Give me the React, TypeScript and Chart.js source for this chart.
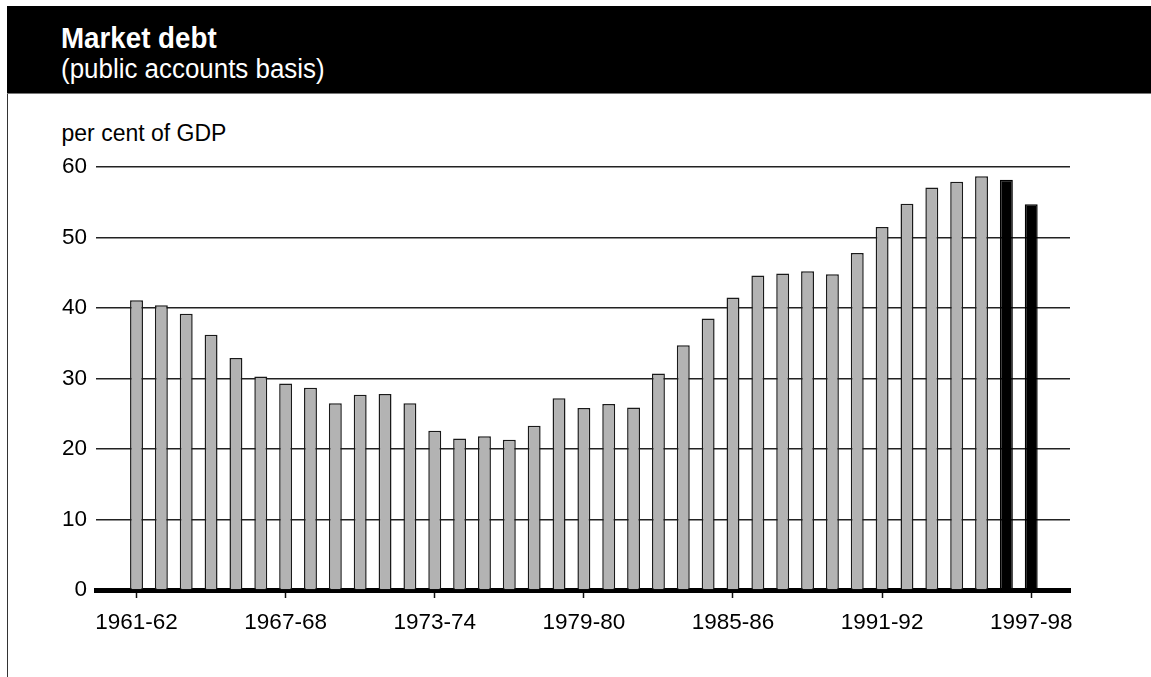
import React, { useEffect, useRef } from "react";
import { Chart, registerables } from "chart.js";

Chart.register(...registerables);

const categories: string[] = [
  "1961-62", "1962-63", "1963-64", "1964-65", "1965-66", "1966-67",
  "1967-68", "1968-69", "1969-70", "1970-71", "1971-72", "1972-73",
  "1973-74", "1974-75", "1975-76", "1976-77", "1977-78", "1978-79",
  "1979-80", "1980-81", "1981-82", "1982-83", "1983-84", "1984-85",
  "1985-86", "1986-87", "1987-88", "1988-89", "1989-90", "1990-91",
  "1991-92", "1992-93", "1993-94", "1994-95", "1995-96", "1996-97",
  "1997-98",
];

const actualValues: number[] = [
  41.1, 40.4, 39.2, 36.2, 32.9, 30.3, 29.3, 28.7, 26.5, 27.7, 27.8, 26.5,
  22.6, 21.5, 21.8, 21.3, 23.3, 27.2, 25.8, 26.4, 25.9, 30.7, 34.7, 38.5,
  41.5, 44.6, 44.9, 45.2, 44.8, 47.8, 51.5, 54.8, 57.1, 57.9, 58.7,
];

const estimateValues: number[] = [58.2, 54.7];

const xTickIndices: number[] = [0, 6, 12, 18, 24, 30, 36];
const yTicks: number[] = [0, 10, 20, 30, 40, 50, 60];

const FONT = "'Liberation Sans', Arial, Helvetica, sans-serif";

export default function App() {
  const canvasRef = useRef<HTMLCanvasElement | null>(null);

  useEffect(() => {
    const canvas = canvasRef.current;
    if (!canvas) return;
    const actualData = actualValues.map((v, i) => ({ x: i, y: v }));
    const estimateData = estimateValues.map((v, i) => ({
      x: actualValues.length + i,
      y: v,
    }));
    const chart = new Chart(canvas, {
      type: "bar",
      data: {
        datasets: [
          {
            label: "Actual",
            data: actualData,
            backgroundColor: "#b3b3b3",
            borderColor: "#1a1a1a",
            borderWidth: 1.5,
            grouped: false,
            categoryPercentage: 1,
            barPercentage: 0.52,
          },
          {
            label: "Estimate",
            data: estimateData,
            backgroundColor: "#000000",
            borderColor: "#000000",
            borderWidth: 1.5,
            grouped: false,
            categoryPercentage: 1,
            barPercentage: 0.52,
          },
        ],
      } as any,
      options: {
        animation: false,
        responsive: false,
        maintainAspectRatio: false,
        devicePixelRatio: 1,
        layout: { padding: { top: 167, right: 81, left: 0, bottom: 0 } },
        plugins: {
          legend: { display: false },
          title: { display: false },
          tooltip: { enabled: false },
        },
        scales: {
          x: {
            type: "linear",
            bounds: "data",
            min: -1.63,
            max: 37.56,
            offset: false,
            z: 1,
            afterFit: (scale: any) => {
              scale.height = 87;
            },
            afterBuildTicks: (scale: any) => {
              scale.ticks = xTickIndices.map((v) => ({ value: v }));
            },
            grid: {
              display: true,
              offset: false,
              drawOnChartArea: false,
              drawTicks: true,
              tickLength: 8,
              tickWidth: 1.5,
              tickColor: "#111",
            },
            border: { display: true, color: "#000", width: 5 },
            ticks: {
              autoSkip: false,
              maxRotation: 0,
              minRotation: 0,
              padding: 11,
              color: "#000",
              font: { family: FONT, size: 22.5 },
              callback: (value: any) => categories[Number(value)] ?? "",
            },
          },
          y: {
            type: "linear",
            min: 0,
            max: 60,
            afterFit: (scale: any) => {
              scale.width = 96;
            },
            afterBuildTicks: (scale: any) => {
              scale.ticks = yTicks.map((v) => ({ value: v }));
            },
            grid: {
              display: true,
              drawTicks: false,
              color: "#222",
              lineWidth: 1.4,
            },
            border: { display: false },
            ticks: {
              padding: 9,
              color: "#000",
              font: { family: FONT, size: 22.5 },
            },
          },
        },
      } as any,
    });
    return () => {
      chart.destroy();
    };
  }, []);

  return (
    <div
      style={{
        position: "fixed",
        left: 0,
        top: 0,
        width: 1151,
        height: 677,
        background: "#fff",
        overflow: "hidden",
        fontFamily: FONT,
      }}
    >
      <div
        style={{
          position: "absolute",
          left: 7,
          top: 6,
          width: 1144,
          height: 87,
          background: "#000",
          borderBottom: "1px solid #777",
        }}
      />
      <div
        style={{
          position: "absolute",
          left: 7,
          top: 94,
          width: 1,
          height: 583,
          background: "#333",
        }}
      />
      <div
        style={{
          position: "absolute",
          left: 61,
          top: 23.3,
          fontSize: 29.5,
          lineHeight: "29.5px",
          fontWeight: "bold",
          color: "#fff",
          whiteSpace: "nowrap",
          transform: "scaleX(0.94)",
          transformOrigin: "left top",
        }}
      >
        Market debt
      </div>
      <div
        style={{
          position: "absolute",
          left: 61,
          top: 56.2,
          fontSize: 27,
          lineHeight: "27px",
          color: "#fff",
          whiteSpace: "nowrap",
          transform: "scaleX(0.96)",
          transformOrigin: "left top",
        }}
      >
        (public accounts basis)
      </div>
      <div
        style={{
          position: "absolute",
          left: 61.5,
          top: 122.2,
          fontSize: 23,
          lineHeight: "23px",
          color: "#000",
          whiteSpace: "nowrap",
        }}
      >
        per cent of GDP
      </div>
      <canvas
        ref={canvasRef}
        width={1151}
        height={677}
        style={{
          position: "absolute",
          left: 0,
          top: 0,
          width: 1151,
          height: 677,
        }}
      />
    </div>
  );
}
